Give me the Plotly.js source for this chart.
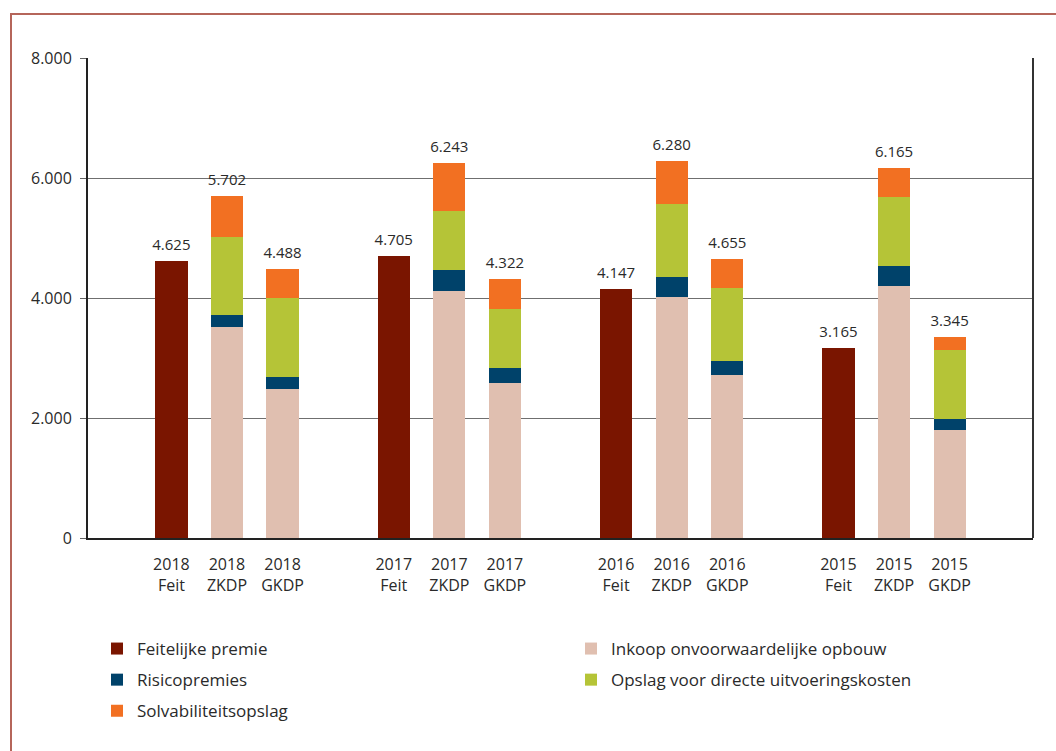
<!DOCTYPE html>
<html>
<head>
<meta charset="utf-8">
<script src="https://cdn.plot.ly/plotly-3.0.1.min.js"></script>
<style>html,body{margin:0;padding:0;background:#fff;}#chart{width:1056px;height:751px;}</style>
</head>
<body>
<div id="chart"></div>
<script>
// ---- data ----
var tickLabels = ["2018<br>Feit","2018<br>ZKDP","2018<br>GKDP",
                  "2017<br>Feit","2017<br>ZKDP","2017<br>GKDP",
                  "2016<br>Feit","2016<br>ZKDP","2016<br>GKDP",
                  "2015<br>Feit","2015<br>ZKDP","2015<br>GKDP"];
var slotPos = [0,1,2, 4,5,6, 8,9,10, 12,13,14];
var feitPos = [0,4,8,12];
var kdpPos  = [1,2, 5,6, 9,10, 13,14];

var feitelijkePremie = [4625, 4705, 4147, 3165];
// order: 2018 ZKDP, 2018 GKDP, 2017 ZKDP, 2017 GKDP, 2016 ZKDP, 2016 GKDP, 2015 ZKDP, 2015 GKDP
var inkoop      = [3520, 2490, 4117, 2589, 4017, 2711, 4194, 1800];
var risico      = [ 197,  200,  350,  250,  327,  244,  334,  183];
var opslag      = [1300, 1305,  983,  983, 1217, 1217, 1155, 1150];
var solvabiliteit = [685,  493,  793,  500,  719,  483,  482,  212];
var totals      = [4625, 5702, 4488, 4705, 6243, 4322, 4147, 6280, 4655, 3165, 6165, 3345];

var yTicks = [0, 2000, 4000, 6000, 8000];

// ---- helpers ----
function fmt(n){ return String(n).replace(/\B(?=(\d{3})+(?!\d))/g, "."); }
var W=1056, H=751, mL=88, mR=23, mT=58, mB=213;
var pw=W-mL-mR, ph=H-mT-mB;
function px2x(px){ return (px-mL)/pw; }
function py2y(py){ return (H-mB-py)/ph; }

var colors = {feit:"#7a1500", inkoop:"#e0bfb0", risico:"#00426a", opslag:"#b5c437", solv:"#f27022"};
var bw = 0.58;
var txt = "#2a2a2a";

var traces = [
  {type:"bar", name:"Feitelijke premie", x:feitPos, y:feitelijkePremie, width:bw,
   marker:{color:colors.feit}, legend:"legend", legendgroup:"a", hoverinfo:"y"},
  {type:"bar", name:"Inkoop onvoorwaardelijke opbouw", x:kdpPos, y:inkoop, width:bw,
   marker:{color:colors.inkoop}, legend:"legend2", legendgroup:"d", hoverinfo:"y"},
  {type:"bar", name:"Risicopremies", x:kdpPos, y:risico, width:bw,
   marker:{color:colors.risico}, legend:"legend", legendgroup:"b", hoverinfo:"y"},
  {type:"bar", name:"Opslag voor directe uitvoeringskosten", x:kdpPos, y:opslag, width:bw,
   marker:{color:colors.opslag}, legend:"legend2", legendgroup:"e", hoverinfo:"y"},
  {type:"bar", name:"Solvabiliteitsopslag", x:kdpPos, y:solvabiliteit, width:bw,
   marker:{color:colors.solv}, legend:"legend", legendgroup:"c", hoverinfo:"y"},
  {type:"scatter", mode:"markers+text", x:slotPos, y:totals, text:totals.map(fmt),
   marker:{size:10, color:"rgba(0,0,0,0)"},
   textposition:"top center", textfont:{size:15, color:txt, family:"Open Sans"},
   showlegend:false, hoverinfo:"skip", cliponaxis:false}
];

var layout = {
  width:W, height:H,
  margin:{l:mL, r:mR, t:mT, b:mB, pad:0},
  paper_bgcolor:"#fff", plot_bgcolor:"#fff",
  barmode:"stack",
  font:{family:"Open Sans", size:16, color:txt},
  xaxis:{range:[-1.5,15.5], tickvals:slotPos, ticktext:tickLabels, ticks:"",
         ticklabelstandoff:11,
         showgrid:false, zeroline:false, showline:true, linecolor:"#222", linewidth:2,
         tickfont:{size:16, color:txt}, fixedrange:true},
  yaxis:{range:[0,8000], tickvals:yTicks, ticktext:yTicks.map(fmt), ticks:"outside",
         ticklen:6, tickcolor:"#666", tickwidth:1, showgrid:true, gridcolor:"#6f6f6f",
         ticklabelstandoff:5,
         gridwidth:1, zeroline:false, showline:true, linecolor:"#222", linewidth:2,
         tickfont:{size:16, color:txt}, fixedrange:true},
  legend:{x:px2x(97), y:py2y(631), xanchor:"left", yanchor:"top",
          orientation:"v", traceorder:"grouped", tracegroupgap:6,
          font:{size:17, color:txt}, bgcolor:"rgba(0,0,0,0)", borderwidth:0},
  legend2:{x:px2x(571), y:py2y(631), xanchor:"left", yanchor:"top",
          orientation:"v", traceorder:"grouped", tracegroupgap:6,
          font:{size:17, color:txt}, bgcolor:"rgba(0,0,0,0)", borderwidth:0},
  shapes:[
    {type:"line", xref:"paper", yref:"paper", x0:1, x1:1, y0:0, y1:1,
     line:{color:"#333", width:2}},
    {type:"rect", xref:"paper", yref:"paper", x0:px2x(11), x1:px2x(1070),
     y0:py2y(770), y1:py2y(14), line:{color:"#b5655a", width:2}, fillcolor:"rgba(0,0,0,0)", layer:"below"}
  ],
  showlegend:true
};

Plotly.newPlot("chart", traces, layout, {displayModeBar:false, staticPlot:true});
</script>
</body>
</html>
